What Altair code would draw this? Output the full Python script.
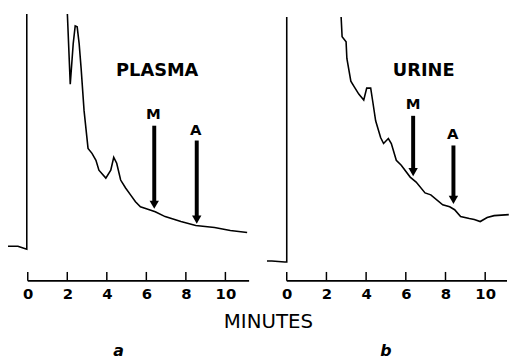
import altair as alt
import pandas as pd

# ---------------- data ----------------
# Panel a: PLASMA chromatogram
a_base_x = [-1.0, -0.5, -0.2, -0.05, -0.05]
a_base_y = [35, 35, 33, 32, 300]
a_curve_x = [2.0, 2.15, 2.3, 2.4, 2.5, 2.6, 2.7, 2.85, 3.05, 3.25, 3.45, 3.6, 3.95,
             4.2, 4.35, 4.5, 4.7, 4.95, 5.2, 5.45, 5.7, 6.0, 6.45, 6.95, 7.75,
             8.5, 9.45, 10.25, 11.1]
a_curve_y = [272, 199, 240, 258, 257, 240, 215, 172, 134, 129, 122, 112, 104,
             112, 125, 119, 102, 94, 87, 80, 75, 73, 70, 65, 60,
             56, 54, 51, 49]

# Panel b: URINE chromatogram
b_base_x = [-1.0, -0.75, -0.1, 0.0, 0.0]
b_base_y = [20, 20, 19, 19, 267]
b_curve_x = [2.74, 2.79, 2.99, 3.03, 3.23, 3.38, 3.63, 3.88, 4.03, 4.23, 4.33, 4.48,
             4.73, 4.88, 5.12, 5.27, 5.52, 5.77, 6.22, 6.52, 6.97, 7.26, 7.86,
             8.21, 8.46, 8.76, 9.2, 9.45, 9.75, 10.1, 10.45, 11.19]
b_curve_y = [267, 247, 242, 225, 202, 197, 189, 183, 195, 195, 182, 162,
             145, 139, 144, 139, 122, 117, 105, 100, 89, 87, 77,
             75, 72, 65, 63, 62, 60, 64, 66, 67]

# Arrows (M, A): x position, top of shaft, tip
a_arrow_x = [6.4, 8.55]
a_arrow_top = [157, 142]
a_arrow_tip = [72, 57]
b_arrow_x = [6.37, 8.4]
b_arrow_top = [167, 137]
b_arrow_tip = [105, 77]

# Text labels
a_lab_text = ["PLASMA", "M", "A"]
a_lab_x = [6.55, 6.35, 8.5]
a_lab_y = [212, 169, 153]
a_lab_size = [18, 15, 15]
b_lab_text = ["URINE", "M", "A"]
b_lab_x = [6.9, 6.37, 8.36]
b_lab_y = [212, 179, 149]
b_lab_size = [18, 15, 15]

tick_values = [0, 2, 4, 6, 8, 10]
FONT = "DejaVu Sans"


def panel(base_x, base_y, curve_x, curve_y, arr_x, arr_top, arr_tip,
          lab_text, lab_x, lab_y, lab_size, axis_end, width, minutes, letter, letter_dx, letter_offset):
    trace = pd.DataFrame({
        "t": base_x + curve_x,
        "s": base_y + curve_y,
        "seg": ["base"] * len(base_x) + ["curve"] * len(curve_x),
        "idx": list(range(len(base_x) + len(curve_x))),
    })
    xs = alt.Scale(domain=[-1, 11.2], nice=False, zero=False)
    ys = alt.Scale(domain=[0, 270], nice=False, zero=False)

    axis_kw = dict(values=tick_values, domain=False, ticks=False, grid=False,
                   labelFont=FONT, labelFontWeight="bold", labelFontSize=15,
                   labelColor="black", labelPadding=6, labelFlush=False)
    if minutes:
        axis_kw.update(title="MINUTES", titleFont=FONT, titleFontWeight="normal",
                       titleFontSize=20, titleColor="black", titleX=263, titleY=41,
                       titleAlign="center", titleBaseline="middle")
    else:
        axis_kw.update(title="")
    xaxis = alt.Axis(**axis_kw)

    def X(f):
        return alt.X(f, scale=xs, axis=xaxis)

    def Y(f):
        return alt.Y(f, scale=ys, axis=None)

    line = alt.Chart(trace).mark_line(color="black", strokeWidth=1.6, clip=True).encode(
        x=X("t:Q"), y=Y("s:Q"), detail="seg:N", order="idx:Q")

    axline = alt.Chart(pd.DataFrame({"x0": [0], "x1": [axis_end], "y0": [0]})).mark_rule(
        color="black", strokeWidth=1.8).encode(x=X("x0:Q"), x2="x1:Q", y=Y("y0:Q"))

    ticks = alt.Chart(pd.DataFrame({"tv": tick_values, "y0": [0] * 6, "y1": [9] * 6})).mark_rule(
        color="black", strokeWidth=1.5).encode(x=X("tv:Q"), y=Y("y0:Q"), y2="y1:Q")

    arr = pd.DataFrame({"ax": arr_x, "top": arr_top, "tip": arr_tip,
                        "shaft_end": [t + 6 for t in arr_tip],
                        "head": [t + 5 for t in arr_tip]})
    shafts = alt.Chart(arr).mark_rule(color="black", strokeWidth=4).encode(
        x=X("ax:Q"), y=Y("top:Q"), y2="shaft_end:Q")
    heads = alt.Chart(arr).mark_point(shape="triangle-down", filled=True, color="black",
                                      opacity=1, size=90).encode(x=X("ax:Q"), y=Y("head:Q"))

    labs = pd.DataFrame({"txt": lab_text, "lx": lab_x, "ly": lab_y, "fs": lab_size})
    texts = alt.Chart(labs).mark_text(font=FONT, fontWeight="bold", color="black",
                                      align="center", baseline="middle").encode(
        x=X("lx:Q"), y=Y("ly:Q"), text="txt:N",
        size=alt.Size("fs:Q", scale=None, legend=None))

    return alt.layer(line, axline, ticks, shafts, heads, texts).properties(
        width=width, height=270,
        title=alt.TitleParams(letter, orient="bottom", anchor="middle", dx=letter_dx,
                              offset=letter_offset, font=FONT, fontStyle="italic",
                              fontWeight="bold", fontSize=16, color="black"))


pa = panel(a_base_x, a_base_y, a_curve_x, a_curve_y, a_arrow_x, a_arrow_top, a_arrow_tip,
           a_lab_text, a_lab_x, a_lab_y, a_lab_size, 11.2, 244, True, "a", -10, 12)
pb = panel(b_base_x, b_base_y, b_curve_x, b_curve_y, b_arrow_x, b_arrow_top, b_arrow_tip,
           b_lab_text, b_lab_x, b_lab_y, b_lab_size, 11.1, 245, False, "b", -2, 42)

chart = alt.hconcat(pa, pb, spacing=18, bounds="flush").properties(
    padding={"left": 0, "top": 4, "right": 0, "bottom": 0}, background="white"
).configure_view(stroke=None)

chart.save("out.html", embed_options={"renderer": "svg", "actions": False})
